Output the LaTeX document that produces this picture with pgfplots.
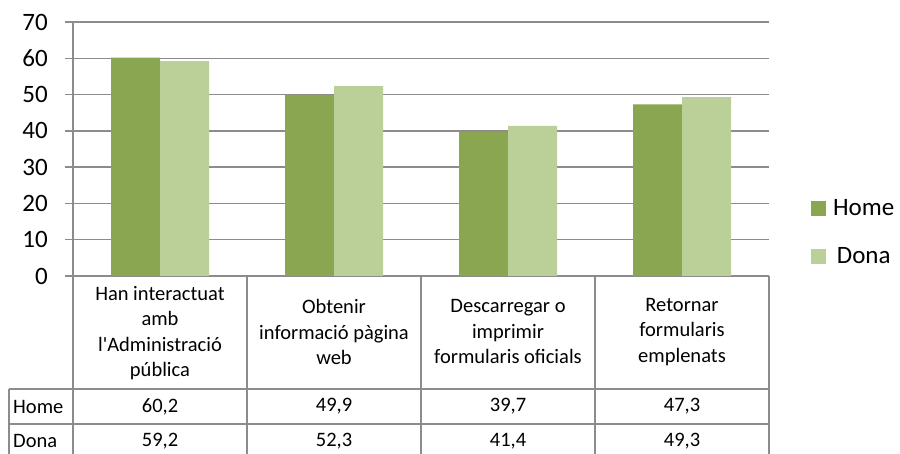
\documentclass[border=0pt]{standalone}
\usepackage{pgfplots}
\pgfplotsset{compat=1.18}
\usepackage{fontspec}
\setmainfont{Carlito}
\definecolor{homecol}{RGB}{138,166,80}
\definecolor{donacol}{RGB}{187,207,152}
\definecolor{gridgray}{RGB}{140,140,140}
\newcommand{\tfont}{\fontsize{20.5}{25.5}\selectfont}
\newcommand{\bfontsz}{\fontsize{25}{30}\selectfont}
\begin{document}
\begin{tikzpicture}[x=1pt,y=1pt]
\useasboundingbox (0,0) rectangle (900,454);
\begin{axis}[
  at={(73pt,178pt)}, anchor=south west,
  scale only axis, width=696pt, height=254pt,
  xmin=-0.5, xmax=3.5, ymin=0, ymax=70,
  ytick={0,10,...,70}, xtick=\empty,
  ybar=0pt, bar width=49pt,
  axis line style={draw=none},
  ymajorgrids, grid style={draw=gridgray, line width=1.5pt},
  tick style={draw=gridgray, line width=1.5pt},
  tick align=outside, major tick length=8pt,
  ytick pos=left,
  /pgf/number format/assume math mode=true,
  yticklabel style={font=\bfontsz, anchor=east, inner sep=0pt, xshift=-17pt},
  clip=false,
  legend style={at={(1.0603,0.1713)}, anchor=west, draw=none, fill=none,
    font=\bfontsz, row sep=30pt, column sep=7pt, inner sep=0pt,
    nodes={inner sep=0pt}},
  legend image code/.code={\fill[#1] (0pt,-7.5pt) rectangle (15pt,7.5pt);},
]
\addplot[fill=homecol, draw=none] coordinates {(0,60.2) (1,49.9) (2,39.7) (3,47.3)};
\addplot[fill=donacol, draw=none] coordinates {(0,59.2) (1,52.3) (2,41.4) (3,49.3)};
\legend{Home, Dona}
\end{axis}
% data table
\begin{scope}[every path/.style={draw=gridgray, line width=1.5pt}]
\draw (73,432) -- (73,-10);
\foreach \xx in {247,421,595,769} { \draw (\xx,178) -- (\xx,-10); }
\draw (9,65) -- (9,-10);
\draw (9,65) -- (769,65);
\draw (9,30) -- (769,30);
\draw (9,-5) -- (769,-5);
\end{scope}
\begin{scope}[every node/.style={font=\tfont, align=center, inner sep=0pt}]
\node at (160,121) {Han interactuat\\amb\\l\textquotesingle Administració\\pública};
\node at (334,122) {Obtenir\\informació pàgina\\web};
\node at (508,122) {Descarregar o\\imprimir\\formularis oficials};
\node at (682,122) {Retornar\\formularis\\emplenats};
\node[anchor=west] at (13,47.5) {Home};
\node[anchor=west] at (13,13) {Dona};
\node at (160,47.5) {60,2};
\node at (334,47.5) {49,9};
\node at (508,47.5) {39,7};
\node at (682,47.5) {47,3};
\node at (160,13) {59,2};
\node at (334,13) {52,3};
\node at (508,13) {41,4};
\node at (682,13) {49,3};
\end{scope}
\end{tikzpicture}
\end{document}
